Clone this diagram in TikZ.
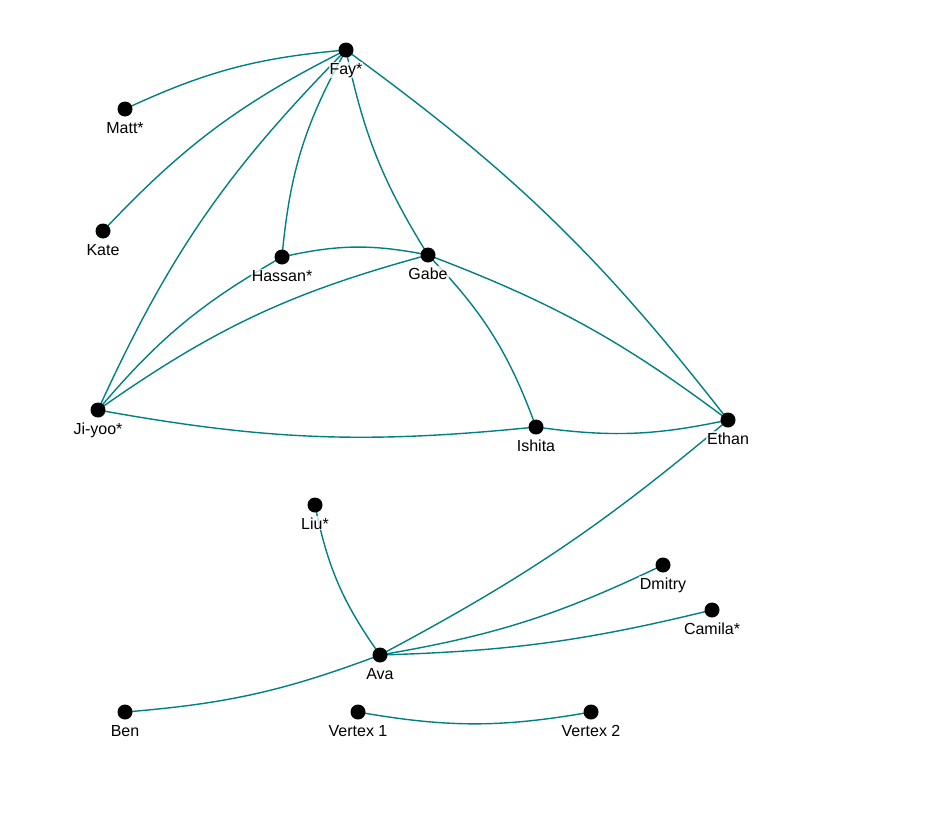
\documentclass[tikz,border=0pt]{standalone}
\usepackage{fontspec}
\setmainfont{Liberation Sans}
\begin{document}
\begin{tikzpicture}[x=1pt,y=1pt,
  edge/.style={draw={rgb,255:red,0;green,128;blue,128}, line width=1.4pt},
  dot/.style={circle, fill=black, minimum size=15pt, inner sep=0pt},
  lbl/.style={anchor=base, inner sep=1pt, fill=white, fill opacity=0.75, text opacity=1, font=\fontsize{16}{19}\selectfont}]
\useasboundingbox (0,0) rectangle (950,-822);
% positions
\coordinate (fay) at (346,-50);
\coordinate (matt) at (125,-109);
\coordinate (kate) at (103,-231);
\coordinate (hassan) at (282,-257);
\coordinate (gabe) at (428,-255);
\coordinate (jiyoo) at (98,-410);
\coordinate (ishita) at (536,-427);
\coordinate (ethan) at (728,-420);
\coordinate (liu) at (315,-505);
\coordinate (dmitry) at (663,-565);
\coordinate (camila) at (712,-610);
\coordinate (ava) at (380,-655);
\coordinate (ben) at (125,-712);
\coordinate (v1) at (358,-712);
\coordinate (v2) at (591,-712);
% edges
\draw[edge] (matt) to[bend left=10] (fay);
\draw[edge] (kate) to[bend left=10] (fay);
\draw[edge] (jiyoo) to[bend left=10] (fay);
\draw[edge] (hassan) to[bend left=12] (fay);
\draw[edge] (gabe) to[bend left=10] (fay);
\draw[edge] (fay) to[bend left=8] (ethan);
\draw[edge] (hassan) to[bend left=12] (gabe);
\draw[edge] (jiyoo) to[bend left=10] (hassan);
\draw[edge] (jiyoo) to[bend left=10] (gabe);
\draw[edge] (gabe) to[bend left=12] (ishita);
\draw[edge] (gabe) to[bend left=8] (ethan);
\draw[edge] (ishita) to[bend left=8] (jiyoo);
\draw[edge] (ethan) to[bend left=10] (ishita);
\draw[edge] (ethan) to[bend left=6] (ava);
\draw[edge] (ava) to[bend left=12] (liu);
\draw[edge] (ava) to[bend right=8] (dmitry);
\draw[edge] (ava) to[bend right=6] (camila);
\draw[edge] (ava) to[bend left=8] (ben);
\draw[edge] (v1) to[bend right=10] (v2);
% labels
\node[lbl] (fayl) at ([yshift=-24pt]fay) {Fay*};
\node[lbl] (mattl) at ([yshift=-24pt]matt) {Matt*};
\node[lbl] (katel) at ([yshift=-24pt]kate) {Kate};
\node[lbl] (hassanl) at ([yshift=-24pt]hassan) {Hassan*};
\node[lbl] (gabel) at ([yshift=-24pt]gabe) {Gabe};
\node[lbl] (jiyool) at ([yshift=-24pt]jiyoo) {Ji-yoo*};
\node[lbl] (ishital) at ([yshift=-24pt]ishita) {Ishita};
\node[lbl] (ethanl) at ([yshift=-24pt]ethan) {Ethan};
\node[lbl] (liul) at ([yshift=-24pt]liu) {Liu*};
\node[lbl] (dmitryl) at ([yshift=-24pt]dmitry) {Dmitry};
\node[lbl] (camilal) at ([yshift=-24pt]camila) {Camila*};
\node[lbl] (aval) at ([yshift=-24pt]ava) {Ava};
\node[lbl] (benl) at ([yshift=-24pt]ben) {Ben};
\node[lbl] (v1l) at ([yshift=-24pt]v1) {Vertex 1};
\node[lbl] (v2l) at ([yshift=-24pt]v2) {Vertex 2};
% dots
\foreach \n in {fay,matt,kate,hassan,gabe,jiyoo,ishita,ethan,liu,dmitry,camila,ava,ben,v1,v2}
  \node[dot] (\n-d) at (\n) {};
\end{tikzpicture}
\end{document}
